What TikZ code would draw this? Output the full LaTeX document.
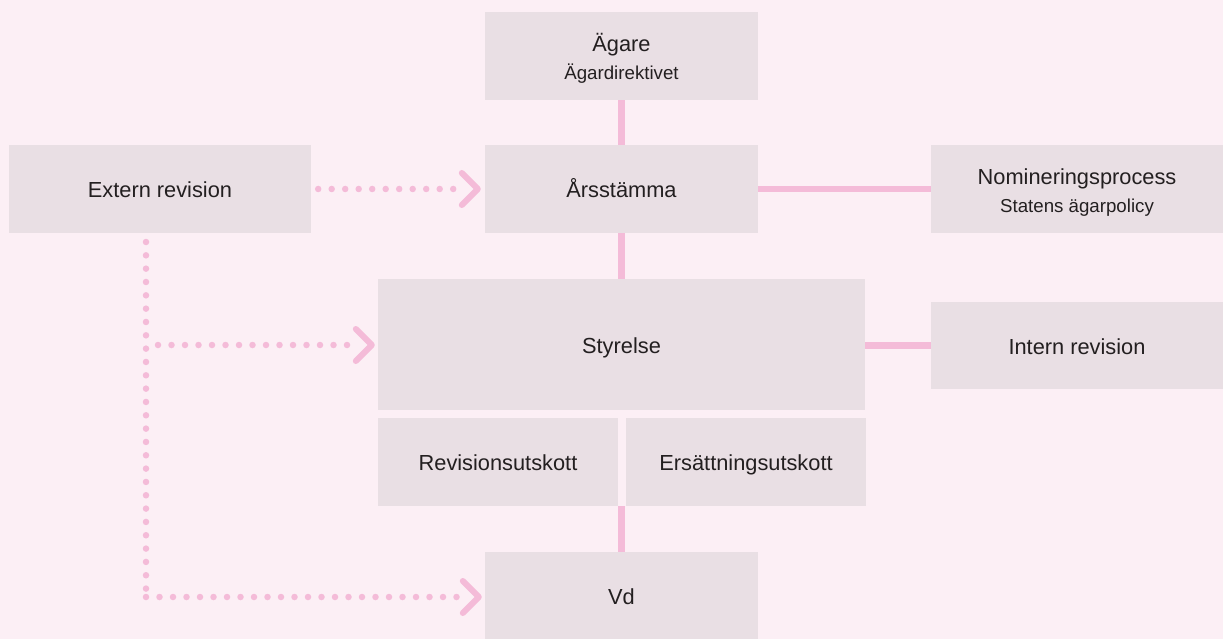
\documentclass[tikz,border=0pt]{standalone}
\usepackage{fontspec}
\setmainfont{Liberation Sans}
\definecolor{bgc}{HTML}{FCEFF5}
\definecolor{boxc}{HTML}{E9DFE4}
\definecolor{linec}{HTML}{F4BBD8}
\definecolor{txtc}{HTML}{231F20}
\newcommand{\subtxt}[1]{{\fontsize{18.7}{28.3}\selectfont #1}}
\newcommand{\twolines}[2]{\begin{tabular}[t]{@{}c@{}}#1\\\subtxt{#2}\end{tabular}}
\usetikzlibrary{calc,backgrounds}
\tikzset{
  orgbox/.style={fill=boxc, draw=none, inner sep=0pt, text=txtc,
    font=\fontsize{21.8}{28.3}\selectfont},
  oneline/.style={orgbox, text height=18pt, text depth=0.6pt},
  twoline/.style={orgbox, text height=16pt, text depth=25pt},
  solidcon/.style={draw=linec, line width=6.5pt},
  dotcon/.style={draw=linec, line width=6.5pt, line cap=round, dash pattern=on 0pt off 13.5pt},
  chev/.style={draw=linec, line width=6pt, line cap=round, line join=round},
}
\begin{document}
\begin{tikzpicture}[x=1pt,y=-1pt]
\useasboundingbox (0,0) rectangle (1223,639);

\node[twoline, minimum width=273pt, minimum height=88pt] (ag) at (621.5,56) {\twolines{Ägare}{Ägardirektivet}};
\node[oneline, minimum width=273pt, minimum height=88pt] (ars) at (621.5,189) {Årsstämma};
\node[oneline, minimum width=302pt, minimum height=88pt] (ext) at (160,189) {Extern revision};
\node[twoline, minimum width=292pt, minimum height=88pt] (nom) at (1077,189) {\twolines{Nomineringsprocess}{Statens ägarpolicy}};
\node[oneline, minimum width=487pt, minimum height=131pt] (sty) at (621.5,344.5) {Styrelse};
\node[oneline, minimum width=292pt, minimum height=87pt] (int) at (1077,345.5) {Intern revision};
\node[oneline, minimum width=240pt, minimum height=88pt] (rev) at (498,462) {Revisionsutskott};
\node[oneline, minimum width=240pt, minimum height=88pt] (ers) at (746,462) {Ersättningsutskott};
\node[oneline, minimum width=273pt, minimum height=87pt] (vd) at (621.5,595.5) {Vd};

\begin{scope}[on background layer]
\fill[bgc] (0,0) rectangle (1223,639);
\draw[solidcon] (ag.south) -- (ars.north);
\draw[solidcon] (ars.east) -- (nom.west);
\draw[solidcon] (ars.south) -- (sty.north);
\draw[solidcon] (int.west -| sty.east) -- (int.west);
\draw[solidcon] (vd.north |- ers.south) -- (vd.north);
\end{scope}

% dotted connectors
\coordinate (t1) at ($(ars.west)+(-7,0)$);
\draw[dotcon] ($(ext.east)+(7,0)$) -- ($(t1)+(-20,0)$);
\draw[chev] ($(t1)+(-16,-16)$) -- (t1) -- ($(t1)+(-16,16)$);

\coordinate (vtop) at (146,242);
\coordinate (vmid) at (146,345);
\coordinate (vbot) at (146,597);
\draw[dotcon, dash pattern=on 0pt off 13.33pt] (vtop) -- (vbot);

\coordinate (t2) at ($(sty.west |- vmid)+(-6,0)$);
\draw[dotcon] ($(vmid)+(12,0)$) -- ($(t2)+(-22,0)$);
\draw[chev] ($(t2)+(-16,-16)$) -- (t2) -- ($(t2)+(-16,16)$);

\coordinate (t3) at ($(vd.west |- vbot)+(-6,0)$);
\draw[dotcon] (vbot) -- ($(t3)+(-22,0)$);
\draw[chev] ($(t3)+(-16,-16)$) -- (t3) -- ($(t3)+(-16,16)$);
\end{tikzpicture}
\end{document}
